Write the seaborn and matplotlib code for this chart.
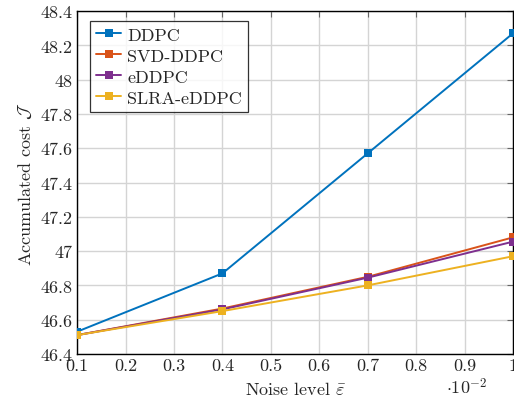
import numpy as np
import pandas as pd
import matplotlib
matplotlib.use("Agg")
import matplotlib.pyplot as plt
import seaborn as sns

noise = [0.1, 0.4, 0.7, 1.0]
ddpc = [46.53, 46.87, 47.57, 48.27]
svd_ddpc = [46.51, 46.665, 46.85, 47.08]
eddpc = [46.51, 46.66, 46.845, 47.055]
slra_eddpc = [46.51, 46.65, 46.80, 46.97]
methods = ["DDPC", "SVD-DDPC", "eDDPC", "SLRA-eDDPC"]
colors = ["#0072BD", "#D95319", "#7E2F8E", "#EDB120"]
xticks = [0.1, 0.2, 0.3, 0.4, 0.5, 0.6, 0.7, 0.8, 0.9, 1.0]
xticklabels = ["0.1", "0.2", "0.3", "0.4", "0.5", "0.6", "0.7", "0.8", "0.9", "1"]
yticks = [46.4, 46.6, 46.8, 47.0, 47.2, 47.4, 47.6, 47.8, 48.0, 48.2, 48.4]
yticklabels = ["46.4", "46.6", "46.8", "47", "47.2", "47.4", "47.6", "47.8", "48", "48.2", "48.4"]

df = pd.DataFrame({
    "x": noise * 4,
    "y": ddpc + svd_ddpc + eddpc + slra_eddpc,
    "method": sum([[m] * len(noise) for m in methods], []),
})

sns.set_style("white")
plt.rcParams["font.family"] = "serif"
plt.rcParams["font.serif"] = ["cmr10", "DejaVu Serif"]
plt.rcParams["mathtext.fontset"] = "cm"
plt.rcParams["axes.unicode_minus"] = False

fs = 13
fig = plt.figure(figsize=(5.14, 4.02), dpi=100)
ax = fig.add_axes([0.150, 0.117, 0.848, 0.853])

sns.lineplot(data=df, x="x", y="y", hue="method", hue_order=methods,
             palette=colors, marker="s", markersize=5.5, markeredgewidth=0,
             linewidth=1.4, dashes=False, ax=ax, zorder=3)

ax.set_xlim(0.1, 1.0)
ax.set_ylim(46.4, 48.4)
ax.set_xticks(xticks)
ax.set_xticklabels(xticklabels)
ax.set_yticks(yticks)
ax.set_yticklabels(yticklabels)
ax.grid(True, color="#d4d4d4", linewidth=1.0, zorder=0)
ax.set_axisbelow(True)
ax.tick_params(direction="in", length=4, width=0.8, color="#666666",
               top=True, right=True, labelsize=fs, pad=3)
for s in ax.spines.values():
    s.set_color("black")
    s.set_linewidth(1.0)

ax.set_xlabel(r"Noise level $\bar{\varepsilon}$", fontsize=fs, labelpad=5)
ax.set_ylabel(r"Accumulated cost $\mathcal{J}$", fontsize=fs, labelpad=5)
ax.text(0.894, -0.093, r"$\cdot 10^{-2}$", transform=ax.transAxes,
        fontsize=fs, ha="center", va="center")

leg = ax.legend(loc="upper left", bbox_to_anchor=(0.03, 0.972), fontsize=fs,
                frameon=True, fancybox=False, edgecolor="black",
                handlelength=1.35, handletextpad=0.35, borderpad=0.35,
                labelspacing=0.3, borderaxespad=0.0)
leg.get_frame().set_linewidth(0.9)
leg.set_title(None)

fig.savefig("out.png", dpi=100)
